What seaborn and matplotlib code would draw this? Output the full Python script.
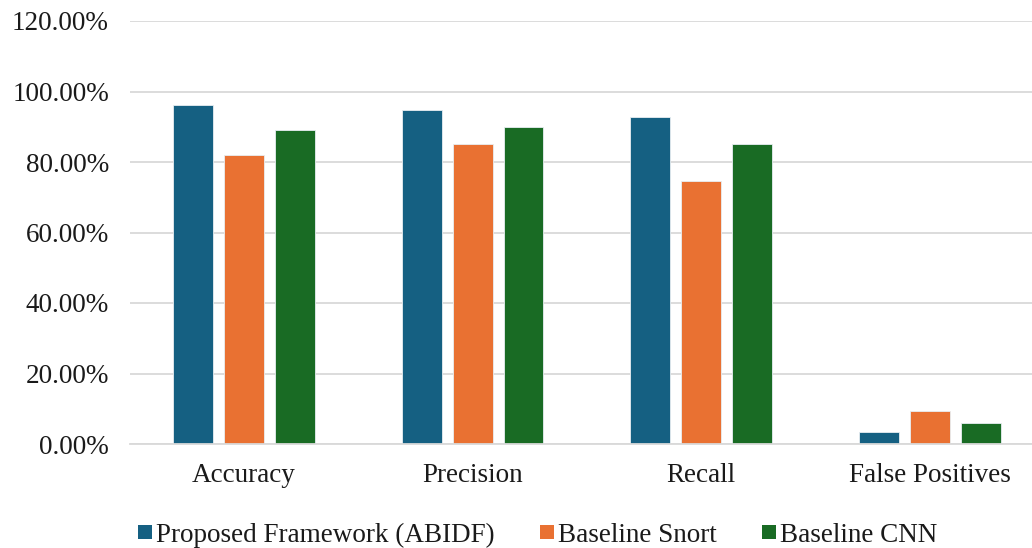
import matplotlib
matplotlib.use("Agg")
import matplotlib.pyplot as plt
import seaborn as sns
import pandas as pd
from matplotlib.ticker import FuncFormatter
from matplotlib.lines import Line2D

categories = ["Accuracy", "Precision", "Recall", "False Positives"]
series = ["Proposed Framework (ABIDF)", "Baseline Snort", "Baseline CNN"]
abidf = [96.2, 94.7, 92.7, 3.4]
snort = [82.0, 85.0, 74.6, 9.3]
cnn = [89.0, 90.0, 85.0, 6.0]
colors = ["#156082", "#E97132", "#196B24"]

rows = []
for s, vals in zip(series, [abidf, snort, cnn]):
    for c, v in zip(categories, vals):
        rows.append({"Metric": c, "Model": s, "Value": v})
df = pd.DataFrame(rows)

sns.set_theme(style="white")
plt.rcParams['font.family'] = ['Liberation Serif', 'DejaVu Serif']

fig = plt.figure(figsize=(10.32, 5.48), dpi=100)
W, H = 1032, 548
left, right = 129.7, 1044
top, bottom = 21, 444
ax = fig.add_axes([left / W, (H - bottom) / H, (right - left) / W, (bottom - top) / H])

sns.barplot(data=df, x="Metric", y="Value", hue="Model", order=categories,
            hue_order=series, palette=colors, saturation=1, width=0.668, gap=0.216,
            edgecolor="#E8EEF2", linewidth=0.6, ax=ax, legend=False)

ax.set_ylim(0, 120)
ax.set_xlim(-0.5, 3.5)
ax.set_yticks([0, 20, 40, 60, 80, 100, 120])
ax.yaxis.set_major_formatter(FuncFormatter(lambda v, p: f"{v:.2f}%"))
ax.grid(axis="y", color="#D9D9D9", linewidth=1.3)
ax.set_axisbelow(True)
for s in ["top", "right", "left"]:
    ax.spines[s].set_visible(False)
ax.spines["bottom"].set_color("#D9D9D9")
ax.spines["bottom"].set_linewidth(1.3)
ax.set_xlabel("")
ax.set_ylabel("")
ax.tick_params(axis="both", length=0, labelsize=19.5, colors="#1a1a1a")
ax.tick_params(axis="y", pad=15)
ax.tick_params(axis="x", pad=14)

handles = [Line2D([0], [0], marker="s", linestyle="", markersize=10.5,
                  markerfacecolor=c, markeredgecolor=c, markeredgewidth=0) for c in colors]
fig.legend(handles, series, loc="center", bbox_to_anchor=(537 / W, (H - 535) / H),
           ncol=3, frameon=False, fontsize=19.5, handletextpad=0.1,
           columnspacing=1.65, handlelength=0.6, labelcolor="#1a1a1a")

fig.savefig("out.png", dpi=100)
